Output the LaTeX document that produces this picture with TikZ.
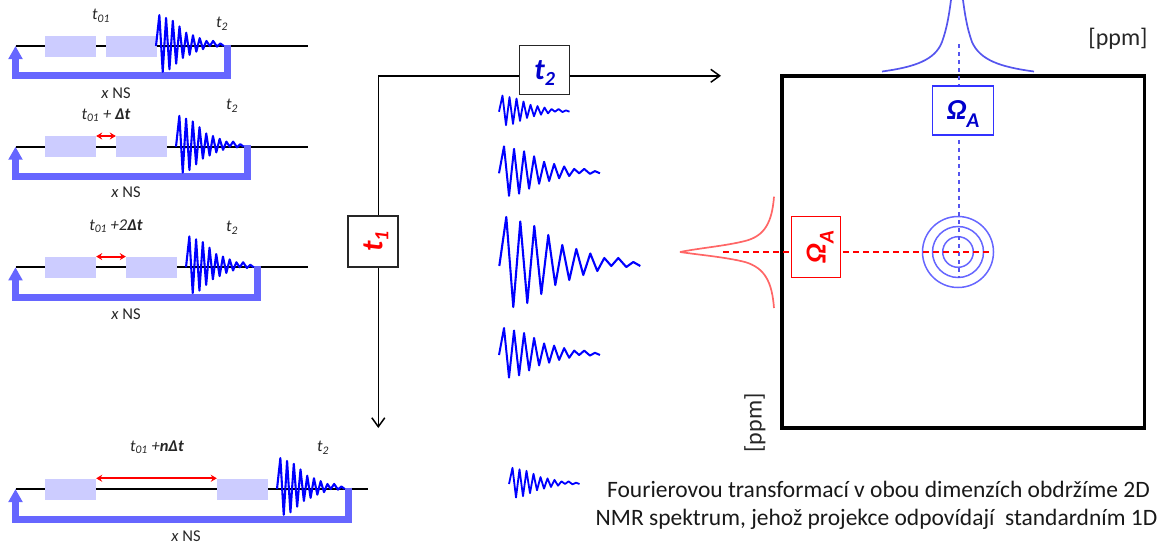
\documentclass[tikz,border=0pt]{standalone}
\usepackage{fontspec}
\setmainfont{Carlito}
\usetikzlibrary{arrows.meta}
\definecolor{pulsefill}{HTML}{CCCCFF}
\definecolor{loopblue}{HTML}{6666FF}
\definecolor{fidblue}{HTML}{0000FF}
\definecolor{labelblue}{HTML}{0000CC}
\definecolor{peakred}{HTML}{FF6666}
\definecolor{peakblue}{HTML}{5555EE}
\definecolor{dashred}{HTML}{FF0000}
\tikzset{
  seqline/.style={draw=black,line width=2pt},
  pulsebox/.style={fill=pulsefill,draw=none,minimum width=51pt,minimum height=21pt,inner sep=0pt},
  looparrow/.style={draw=loopblue,line width=6.5pt,line join=miter,-{Triangle[length=13pt,width=13.5pt]}},
  delay/.style={draw=dashred,line width=1.8pt,{Stealth[length=6pt,width=7pt]}-{Stealth[length=6pt,width=7pt]}},
  fidline/.style={draw=fidblue,line width=#1,line join=round},
  seqtext/.style={inner sep=0pt,font=\fontsize{16.5}{18}\selectfont,text=black!85},
  axisline/.style={draw=black,line width=1.5pt,-{Straight Barb[length=9pt,width=13pt,line width=1.5pt]}},
  axisbox/.style={draw=black!85,line width=1.3pt,fill=white,minimum width=50pt,minimum height=49pt,inner sep=0pt},
  bluebox/.style={draw=blue!80!white,line width=1.4pt,fill=white,minimum width=61pt,minimum height=49pt,inner sep=0pt},
  redbox/.style={draw=red,line width=1.4pt,fill=white,minimum width=49pt,minimum height=61pt,inner sep=0pt},
  ring/.style={draw=loopblue,line width=1.5pt},
  bluedash/.style={draw=peakblue,line width=1.6pt,dash pattern=on 4pt off 4pt},
  reddash/.style={draw=dashred,line width=1.9pt,line cap=butt,dash pattern=on 6pt off 4pt},
  peakcurve/.style={line width=1.7pt},
  ppmtext/.style={inner sep=0pt,font=\fontsize{24}{26}\selectfont,text=black!85},
  caption/.style={inner sep=0pt,font=\fontsize{23.5}{30}\selectfont,text=black!90,align=center}
}
% lowered subscript that does not change the height of its line
\newcommand{\lowsub}[3]{\raisebox{#1}[0pt][0pt]{\fontsize{#2}{#2}\selectfont #3}}
% FID: x, y, xscale, yscale, line width
\newcommand{\fid}[5]{%
  \begin{scope}[shift={(#1,#2)},xscale=#3,yscale=#4]
    \draw[fidline=#5] (0,0)--(7,-49)--(14,41)--(21,-44.5)--(28,37)--(35,-40)--(42,28)--(49,-31)--(56,19)--(63,-21)--(70,14)--(77,-17)--(84,9)--(91,-12.5)--(98,5)--(105,-8)--(112,0)--(119,-8)--(127,1)--(134,-4)--(141,0);
  \end{scope}}
% sequence: id, line y, 2nd box centre x, line end x, loop right x, loop bottom y, fid start x
\newcommand{\pulseseq}[7]{%
  \coordinate (#1start) at (15.5,#2);
  \coordinate (#1end) at (#4,#2);
  \coordinate (#1rt) at (#5,#2-1.5);
  \coordinate (#1rb) at (#5,#6);
  \coordinate (#1lb) at (15.5,#6);
  \draw[seqline] (#1start) -- (#1end);
  \node[pulsebox] (#1a) at (70.5,#2) {};
  \node[pulsebox] (#1b) at (#3,#2) {};
  \draw[looparrow] (#1rt) -- (#1rb) -- (#1lb) -- (#1start);
  \fid{#7}{#2}{0.48}{0.63}{2.1pt}}
\begin{document}
\begin{tikzpicture}[x=1pt,y=-1pt]
\path[use as bounding box] (0,0) rectangle (1161,546);

% pulse sequences
\pulseseq{sa}{46}{131.5}{308}{227.5}{75.5}{156}
\pulseseq{sb}{146.7}{141.5}{308}{247.3}{176.7}{176}
\pulseseq{sc}{267.3}{151.5}{308}{257.3}{297.3}{186}
\pulseseq{sd}{489}{242.5}{368}{348.7}{519.3}{277}
\draw[delay] (sba.north east) -- (sbb.north west);
\draw[delay] (sca.north east) -- (scb.north west);
\draw[delay] (sda.north east) -- (sdb.north west);

\node[seqtext] (la1) at (101,16) {\textit{t\textsubscript{01}}};
\node[seqtext] (la2) at (222,24) {\textit{t\textsubscript{2}}};
\node[seqtext] (la3) at (116,93) {\textit{x} NS};
\node[seqtext] (lb1) at (106,115) {\textit{t\textsubscript{01} + \textbf{Δt}}};
\node[seqtext] (lb2) at (232,106) {\textit{t\textsubscript{2}}};
\node[seqtext] (lb3) at (126,192) {\textit{x} NS};
\node[seqtext] (lc1) at (116,226) {\textit{t\textsubscript{01} +2\textbf{Δt}}};
\node[seqtext] (lc2) at (232,228) {\textit{t\textsubscript{2}}};
\node[seqtext] (lc3) at (126,314) {\textit{x} NS};
\node[seqtext] (ld1) at (157,447) {\textit{t\textsubscript{01} +\textbf{nΔt}}};
\node[seqtext] (ld2) at (323,448) {\textit{t\textsubscript{2}}};
\node[seqtext] (ld3) at (186,536) {\textit{x} NS};

% axes
\coordinate (origin) at (378.3,75.8);
\coordinate (axisx) at (721,75.8);
\coordinate (axisy) at (378.3,428);
\draw[axisline] (origin) -- (axisx);
\draw[axisline] (origin) -- (axisy);
\node[axisbox] (t2box) at (544.7,70) {\raisebox{-1pt}{\fontsize{30}{30}\selectfont\bfseries\itshape\color{labelblue}t\lowsub{-6pt}{20}{2}}};
\node[axisbox,minimum height=51pt] (t1box) at (373,241.5) {\rotatebox{90}{\raisebox{-1pt}{\fontsize{30}{30}\selectfont\bfseries\itshape\color{red}t\lowsub{-6pt}{20}{1}}}};

% FIDs of the series
\fid{499}{111.7}{0.5}{0.33}{1.8pt}
\fid{499}{173.3}{0.716}{0.55}{2pt}
\fid{499.3}{266}{1}{1}{2.1pt}
\fid{499}{355}{0.716}{0.55}{2pt}
\fid{509}{484}{0.5}{0.33}{1.8pt}

% spectrum
\node[draw=black,line width=3.5pt,minimum width=362.5pt,minimum height=352pt,inner sep=0pt] (spectrum) at (963,252) {};
\coordinate (vtop) at (959,44);
\coordinate (vbot) at (959,278);
\coordinate (hleft) at (723,251.7);
\coordinate (hright) at (992,251.7);
\node[ring,circle,minimum size=71pt,inner sep=0pt] (r3) at (958,252) {};
\node[ring,circle,minimum size=51pt,inner sep=0pt] (r2) at (958,252) {};
\node[ring,circle,minimum size=30.6pt,inner sep=0pt] (r1) at (958,252) {};
\draw[bluedash] (vtop) -- (vbot);
\draw[reddash] (hleft) -- (hright);
\node[bluebox] (omegab) at (963,110.3) {\raisebox{-0.7pt}{\fontsize{29}{29}\selectfont\bfseries\itshape\color{labelblue}Ω\lowsub{-8pt}{21}{A}}};
\node[redbox] (omegar) at (816,247.2) {\rotatebox{90}{\raisebox{-2pt}{\fontsize{29}{29}\selectfont\bfseries\itshape\color{red}Ω\lowsub{-8pt}{21}{A}}}};

% projections
\draw[peakcurve,draw=peakblue] (882,71.5) .. controls (915,67) and (935,60) .. (942,42) .. controls (947,28) and (949,15) .. (951,0);
\draw[peakcurve,draw=peakblue] (1034,71.5) .. controls (1000,67) and (980,60) .. (972,42) .. controls (967,28) and (965,15) .. (963,0);
\draw[peakcurve,draw=peakred] (774,196.7) .. controls (772,222) and (765,236) .. (745,241) .. controls (725,246) and (700,248) .. (680,252);
\draw[peakcurve,draw=peakred] (774,308) .. controls (772,282) and (765,268) .. (745,262) .. controls (725,257) and (700,255) .. (680,252);

% labels
\node[ppmtext] (ppmx) at (1118,39) {[ppm]};
\node[ppmtext,rotate=90] (ppmy) at (755,423) {[ppm]};
\node[caption] (cap1) at (878.5,489) {Fourierovou transformací v obou dimenzích obdržíme 2D};
\node[caption] (cap2) at (876.5,519) {NMR spektrum, jehož projekce odpovídají\ \ standardním 1D};
\end{tikzpicture}
\end{document}
